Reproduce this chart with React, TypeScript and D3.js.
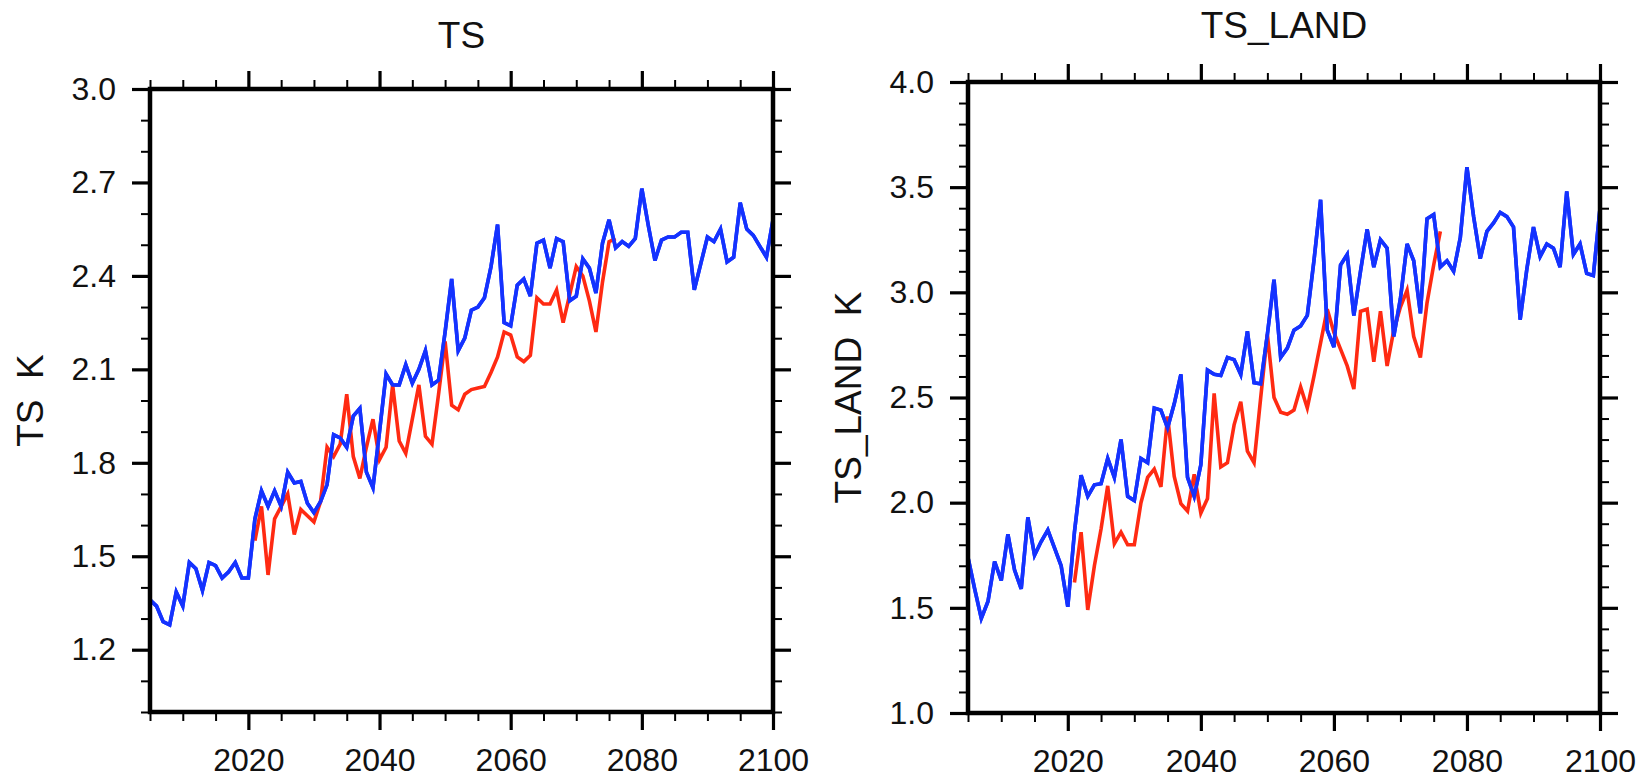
import React, { useEffect, useRef } from 'react';
import * as d3 from 'd3';

// annual values, first year 2005 (blue) / 2021 (red)
const firstYear = 2005;
const lastYear = 2100;
const redFirstYear = 2021;

const tsBlue = [
  1.36, 1.34, 1.29, 1.28, 1.385, 1.34, 1.48, 1.46, 1.39, 1.48,
  1.47, 1.43, 1.45, 1.48, 1.43, 1.43, 1.62, 1.71, 1.66, 1.71,
  1.66, 1.77, 1.735, 1.74, 1.67, 1.64, 1.675, 1.73, 1.89, 1.88,
  1.85, 1.95, 1.975, 1.77, 1.72, 1.9, 2.085, 2.05, 2.05, 2.115,
  2.055, 2.1, 2.16, 2.05, 2.065, 2.22, 2.39, 2.16, 2.2, 2.29,
  2.3, 2.33, 2.43, 2.565, 2.25, 2.24, 2.37, 2.39, 2.335, 2.505,
  2.515, 2.425, 2.52, 2.51, 2.32, 2.335, 2.455, 2.425, 2.345, 2.505,
  2.58, 2.49, 2.51, 2.495, 2.52, 2.68, 2.56, 2.45, 2.515, 2.525,
  2.525, 2.54, 2.54, 2.355, 2.44, 2.525, 2.51, 2.55, 2.445, 2.46,
  2.635, 2.55, 2.53, 2.495, 2.46, 2.58,
];

const tsRed = [
  1.55, 1.66, 1.44, 1.62, 1.66, 1.7, 1.57, 1.65, 1.63, 1.61,
  1.675, 1.85, 1.82, 1.86, 2.02, 1.82, 1.75, 1.85, 1.94, 1.81,
  1.85, 2.05, 1.87, 1.83, 1.94, 2.05, 1.885, 1.86, 2.02, 2.19,
  1.985, 1.97, 2.02, 2.035, 2.04, 2.045, 2.09, 2.14, 2.22, 2.21,
  2.14, 2.125, 2.145, 2.33, 2.31, 2.31, 2.355, 2.25, 2.34, 2.43,
  2.4, 2.32, 2.22, 2.38, 2.51, 2.52,
];

const landBlue = [
  1.74, 1.59, 1.45, 1.53, 1.72, 1.63, 1.85, 1.68, 1.59, 1.93,
  1.75, 1.815, 1.87, 1.785, 1.7, 1.505, 1.86, 2.13, 2.03, 2.085,
  2.09, 2.21, 2.12, 2.3, 2.03, 2.01, 2.21, 2.19, 2.45, 2.44,
  2.355, 2.47, 2.61, 2.12, 2.03, 2.18, 2.63, 2.61, 2.605, 2.69,
  2.68, 2.61, 2.815, 2.57, 2.565, 2.8, 3.06, 2.69, 2.735, 2.82,
  2.84, 2.89, 3.15, 3.44, 2.82, 2.74, 3.13, 3.18, 2.89, 3.1,
  3.3, 3.12, 3.25, 3.21, 2.79, 2.97, 3.23, 3.15, 2.9, 3.35,
  3.37, 3.12, 3.15, 3.1, 3.26, 3.595, 3.36, 3.16, 3.29, 3.33,
  3.38, 3.36, 3.31, 2.87, 3.11, 3.31, 3.17, 3.23, 3.21, 3.12,
  3.48, 3.18, 3.23, 3.09, 3.08, 3.4,
];

const landRed = [
  1.62, 1.86, 1.49, 1.7, 1.875, 2.08, 1.805, 1.86, 1.8, 1.8,
  2.0, 2.12, 2.16, 2.075, 2.41, 2.125, 1.995, 1.96, 2.135, 1.95,
  2.02, 2.52, 2.17, 2.19, 2.37, 2.48, 2.245, 2.19, 2.5, 2.8,
  2.5, 2.43, 2.42, 2.44, 2.55, 2.45, 2.6, 2.76, 2.92, 2.81,
  2.73, 2.65, 2.54, 2.91, 2.92, 2.67, 2.91, 2.65, 2.82, 2.93,
  3.01, 2.79, 2.69, 2.95, 3.13, 3.29,
];

const xTicks = [2020, 2040, 2060, 2080, 2100];
const tsYTicks = [1.2, 1.5, 1.8, 2.1, 2.4, 2.7, 3.0];
const landYTicks = [1.0, 1.5, 2.0, 2.5, 3.0, 3.5, 4.0];

const BLUE = '#1432ff';
const RED = '#ff2a12';
const FONT = '"Liberation Sans", Arial, Helvetica, sans-serif';

const panels = [
  {
    title: 'TS', yLabel: 'TS  K', blue: tsBlue, red: tsRed,
    yDomain: [1, 3], yTicks: tsYTicks,
    left: 150, right: 773, top: 89, bottom: 712, titleY: 48, labelX: 43,
  },
  {
    title: 'TS_LAND', yLabel: 'TS_LAND  K', blue: landBlue, red: landRed,
    yDomain: [1, 4], yTicks: landYTicks,
    left: 968, right: 1600, top: 82, bottom: 713, titleY: 38, labelX: 861,
  },
];

const App = () => {
  const svgRef = useRef(null);

  useEffect(() => {
    const svg = d3.select(svgRef.current);
    svg.selectAll('*').remove();

    panels.forEach((p) => {
      const x = d3.scaleLinear().domain([firstYear, lastYear]).range([p.left, p.right]);
      const y = d3.scaleLinear().domain(p.yDomain).range([p.bottom, p.top]);
      const g = svg.append('g');

      const xMinor = d3.range(firstYear, lastYear + 1, 5).filter((v) => !xTicks.includes(v));
      const yMinor = d3.range(Math.round(p.yDomain[0] * 10), Math.round(p.yDomain[1] * 10) + 1)
        .map((v) => v / 10)
        .filter((v) => !p.yTicks.some((t) => Math.abs(t - v) < 1e-6));

      const fmt = d3.format('.1f');
      const major = [
        [d3.axisBottom(x).tickValues(xTicks).tickFormat(d3.format('d')).tickPadding(18), `translate(0,${p.bottom})`],
        [d3.axisTop(x).tickValues(xTicks).tickFormat(() => ''), `translate(0,${p.top})`],
        [d3.axisLeft(y).tickValues(p.yTicks).tickFormat(fmt).tickPadding(16), `translate(${p.left},0)`],
        [d3.axisRight(y).tickValues(p.yTicks).tickFormat(() => ''), `translate(${p.right},0)`],
      ];
      const minor = [
        [d3.axisBottom(x).tickValues(xMinor), `translate(0,${p.bottom})`],
        [d3.axisTop(x).tickValues(xMinor), `translate(0,${p.top})`],
        [d3.axisLeft(y).tickValues(yMinor), `translate(${p.left},0)`],
        [d3.axisRight(y).tickValues(yMinor), `translate(${p.right},0)`],
      ];

      minor.forEach(([axis, tr]) => {
        const a = g.append('g').attr('transform', tr)
          .call(axis.tickSize(9).tickFormat(() => ''));
        a.select('.domain').remove();
        a.selectAll('line').attr('stroke', '#000').attr('stroke-width', 2);
      });
      major.forEach(([axis, tr]) => {
        const a = g.append('g').attr('transform', tr).call(axis.tickSize(18));
        a.select('.domain').remove();
        a.selectAll('line').attr('stroke', '#000').attr('stroke-width', 3.2);
        a.selectAll('text')
          .attr('font-family', FONT)
          .attr('font-size', 32)
          .attr('fill', '#111');
      });

      const line = d3.line().x((d) => x(d[0])).y((d) => y(d[1]));
      const blueData = p.blue.map((v, i) => [firstYear + i, v]);
      const redData = p.red.map((v, i) => [redFirstYear + i, v]);

      g.append('path').datum(blueData).attr('d', line)
        .attr('fill', 'none').attr('stroke', BLUE).attr('stroke-width', 3.6);
      g.append('path').datum(redData).attr('d', line)
        .attr('fill', 'none').attr('stroke', RED).attr('stroke-width', 3.6);
      // blue drawn over red
      g.append('path').datum(blueData).attr('d', line)
        .attr('fill', 'none').attr('stroke', BLUE).attr('stroke-width', 3.6);

      g.append('rect')
        .attr('x', p.left).attr('y', p.top)
        .attr('width', p.right - p.left).attr('height', p.bottom - p.top)
        .attr('fill', 'none').attr('stroke', '#000').attr('stroke-width', 4.5);

      g.append('text')
        .attr('x', (p.left + p.right) / 2).attr('y', p.titleY)
        .attr('text-anchor', 'middle')
        .attr('font-family', FONT).attr('font-size', 37).attr('fill', '#111')
        .text(p.title);

      g.append('text')
        .attr('transform', `translate(${p.labelX},${(p.top + p.bottom) / 2}) rotate(-90)`)
        .attr('text-anchor', 'middle')
        .attr('font-family', FONT).attr('font-size', 37).attr('fill', '#111')
        .style('white-space', 'pre')
        .text(p.yLabel);
    });
  }, []);

  return (
    <React.Fragment>
      <svg
        ref={svgRef}
        width={1646}
        height={778}
        style={{ position: 'absolute', left: 0, top: 0, background: '#fff' }}
      />
    </React.Fragment>
  );
};

export default App;
